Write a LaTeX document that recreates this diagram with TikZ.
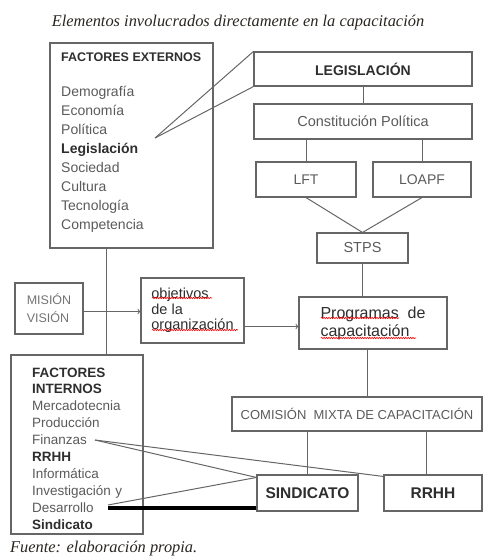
\documentclass[tikz,border=0pt]{standalone}
\usepackage{fontspec}
\setmainfont{Liberation Sans}
\newfontfamily\serifit{Liberation Serif}
\usepackage{xcolor}
\usetikzlibrary{positioning, arrows, decorations.pathmorphing}
\definecolor{bordegris}{HTML}{666666}
\definecolor{textogris}{HTML}{5A5A5A}
\definecolor{textoosc}{HTML}{2E2E2E}
\definecolor{titulocol}{HTML}{2A2520}
\tikzset{
  caja/.style={draw=bordegris, line width=1.1pt, inner sep=0pt},
  linea/.style={draw=bordegris, line width=1pt},
  flecha/.style={linea, ->},
  grueso/.style={draw=black, line width=4pt},
  ondul/.style={draw=red, line width=0.6pt, decorate, decoration={snake, amplitude=0.7pt, segment length=2.4pt}}
}

\begin{document}
\begin{tikzpicture}[x=1pt,y=-1pt]
\useasboundingbox (0,0) rectangle (483,557);
% titulo y fuente
\node[font=\serifit\itshape\fontsize{16.4}{19}\selectfont, text=titulocol] (titulo) at (238,23) {Elementos involucrados directamente en la capacitaci\'on};
\node[anchor=west, inner sep=0pt, font=\serifit\itshape\fontsize{16.4}{19}\selectfont, text=titulocol] (fuente) at (10,549) {Fuente: elaboraci\'on propia.};
% factores externos
\node[caja, minimum width=163pt, minimum height=205pt] (ext) at (131.5,145.5) {};
\node[anchor=base west, inner sep=0pt, font=\bfseries\fontsize{12.5}{15}\selectfont, text=textoosc] (extt) at (61,61.5) {FACTORES EXTERNOS};
\node[anchor=base west, inner sep=0pt, text width=140pt, align=left, font=\fontsize{14}{19.1}\selectfont, text=textogris] (extl) at (61,96)
{Demograf\'ia\\Econom\'ia\\Pol\'itica\\\textbf{\color{textoosc}Legislaci\'on}\\Sociedad\\Cultura\\Tecnolog\'ia\\Competencia};
\coordinate (legw) at (155,138);
% legislacion
\node[caja, minimum width=218pt, minimum height=34pt, font=\bfseries\fontsize{14}{16}\selectfont, text=textoosc] (legis) at (363,69) {LEGISLACI\'ON};
\node[caja, minimum width=218pt, minimum height=35pt, font=\fontsize{14.5}{16}\selectfont, text=textogris] (const) at (363,121.5) {Constituci\'on Pol\'itica};
\node[caja, minimum width=100pt, minimum height=35pt, font=\fontsize{14}{16}\selectfont, text=textogris] (lft) at (306,179.5) {LFT};
\node[caja, minimum width=98pt, minimum height=35pt, font=\fontsize{14}{16}\selectfont, text=textogris] (loapf) at (422,179.5) {LOAPF};
\node[caja, minimum width=91pt, minimum height=30pt, font=\fontsize{14.5}{16}\selectfont, text=textogris] (stps) at (362.5,248) {STPS};
% mision, objetivos, programas
\node[caja, minimum width=68pt, minimum height=51pt, align=left, font=\fontsize{12.5}{18}\selectfont, text=textogris!85] (mision) at (49,308.5) {MISI\'ON\\VISI\'ON};
\node[caja, minimum width=103pt, minimum height=65pt, align=left, font=\fontsize{14.5}{15.5}\selectfont, text=textoosc] (obj) at (192.5,310.5) {objetivos\\de la\\organizaci\'on};
\node[caja, minimum width=148pt, minimum height=52pt, align=left, font=\fontsize{16}{18}\selectfont, text=textoosc] (prog) at (373,323) {Programas\ \ de\\capacitaci\'on};
% subrayado ondulado
\draw[ondul] (152,298) -- (212,298);
\draw[ondul] (152,330) -- (238,330);
\draw[ondul] (321,318) -- (399,318);
\draw[ondul] (321,338) -- (416,338);
% comision, sindicato, rrhh
\node[caja, minimum width=250pt, minimum height=34pt, font=\fontsize{13}{15}\selectfont, text=textogris] (com) at (357,414) {COMISI\'ON\ \ MIXTA DE CAPACITACI\'ON};
\node[caja, minimum width=101pt, minimum height=36pt, font=\bfseries\fontsize{15.5}{17}\selectfont, text=textoosc] (sind) at (307.5,493) {SINDICATO};
\node[caja, minimum width=98pt, minimum height=36pt, font=\bfseries\fontsize{15.5}{17}\selectfont, text=textoosc] (rrhh) at (433,493) {RRHH};
% factores internos
\node[caja, minimum width=132pt, minimum height=179pt] (int) at (77,444.5) {};
\node[anchor=base west, inner sep=0pt, text width=110pt, align=left, font=\fontsize{13.5}{16.9}\selectfont, text=textogris] (intl) at (32,377)
{\textbf{\color{textoosc}FACTORES}\\\textbf{\color{textoosc}INTERNOS}\\Mercadotecnia\\Producci\'on\\Finanzas\\\textbf{\color{textoosc}RRHH}\\Inform\'atica\\Investigaci\'on y\\Desarrollo\\\textbf{\color{textoosc}Sindicato}};
\coordinate (finw) at (95,440);
\coordinate (desw) at (108,505);
\coordinate (desg) at (108,508);
% conectores
\draw[linea] (legw) -- (legis.north west);
\draw[linea] (legw) -- (legis.south west);
\draw[linea] (legis.south) -- (const.north);
\draw[linea] (lft.north) -- (lft.north |- const.south);
\draw[linea] (loapf.north) -- (loapf.north |- const.south);
\draw[linea] (lft.south) -- (stps.north);
\draw[linea] (loapf.south) -- (stps.north);
\draw[linea] (stps.south) -- (stps.south |- prog.north);
\draw[linea] ([xshift=-25.5pt]ext.south) -- ([xshift=-25.5pt]ext.south |- int.north);
\draw[flecha] ([yshift=-3pt]mision.east) -- ([yshift=-3pt]mision.east -| obj.west);
\draw[flecha] ([yshift=-16pt]obj.east) -- ([yshift=-16pt]obj.east -| prog.west);
\draw[linea] ([xshift=-6pt]prog.south) -- ([xshift=-6pt]prog.south |- com.north);
\draw[linea] (sind.north) -- (sind.north |- com.south);
\draw[linea] ([xshift=-7pt]rrhh.north) -- ([xshift=-7pt]rrhh.north |- com.south);
\draw[linea] (finw) -- ([yshift=-3pt]sind.north west);
\draw[linea] (desw) -- ([yshift=-3pt]sind.north west);
\draw[linea] (finw) -- ([yshift=-2pt]rrhh.north west);
\draw[grueso] (desg) -- (desg -| sind.west);
\end{tikzpicture}
\end{document}
